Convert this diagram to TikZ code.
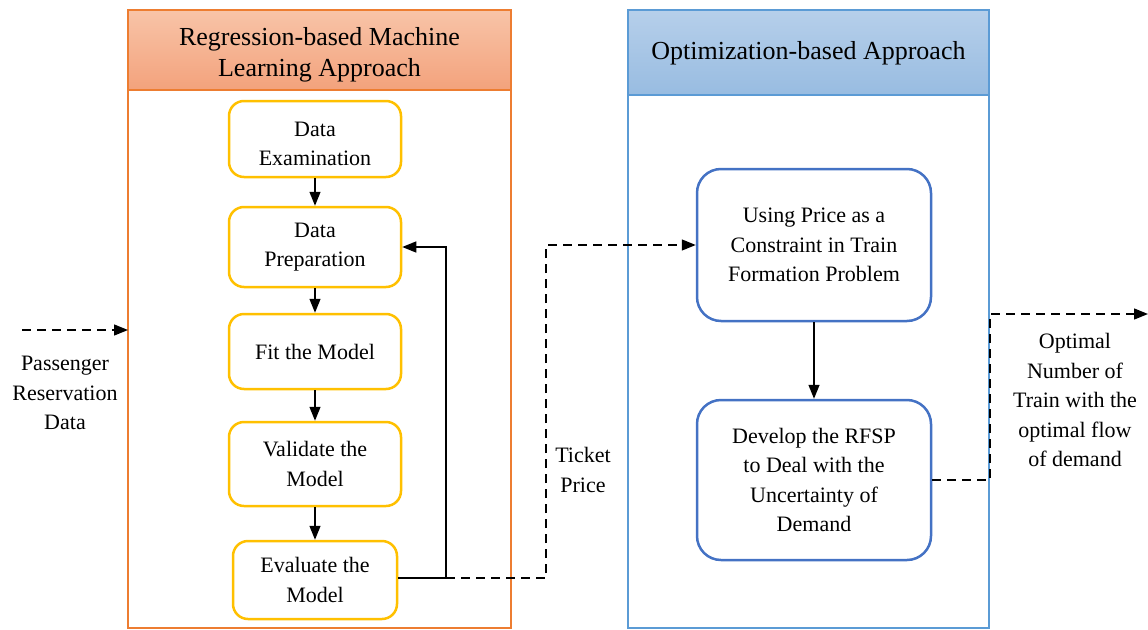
\documentclass[tikz,border=0pt]{standalone}
\usepackage{fontspec}
\setmainfont{Liberation Serif}
\usetikzlibrary{arrows.meta,calc}
\definecolor{panelorange}{HTML}{ED7D31}
\definecolor{hdrOtop}{HTML}{F8C4A8}
\definecolor{hdrObot}{HTML}{F3A27C}
\definecolor{panelblue}{HTML}{5B9BD5}
\definecolor{hdrBtop}{HTML}{B6CFEA}
\definecolor{hdrBbot}{HTML}{98BCE1}
\definecolor{boxblue}{HTML}{4472C4}
\definecolor{boxyellow}{HTML}{FFC000}
\tikzset{
  bodytext/.style={font=\fontsize{22}{29.5}\selectfont, align=center},
  hdrtext/.style={font=\fontsize{26}{31}\selectfont, align=center},
  ybox/.style={draw=boxyellow, line width=2.5pt, rounded corners=15pt, bodytext, inner sep=0pt},
  bbox/.style={draw=boxblue, line width=2.5pt, rounded corners=24pt, bodytext, inner sep=0pt},
  arr/.style={line width=1.4pt, -{Triangle[length=14pt,width=11pt]}},
  dsh/.style={dash pattern=on 9pt off 6pt},
}
\begin{document}
\begin{tikzpicture}[x=1pt,y=-1pt]
\useasboundingbox (0,0) rectangle (1148,629);
% left panel
\shade[top color=hdrOtop, bottom color=hdrObot] (128,10) rectangle (511,90);
\draw[panelorange, line width=2pt] (128,10) rectangle (511,628);
\draw[panelorange, line width=2pt] (128,90) -- (511,90);
\node[hdrtext] (hl) at (319.5,55) {Regression-based Machine\\Learning Approach};
% right panel
\shade[top color=hdrBtop, bottom color=hdrBbot] (628,10) rectangle (989,95);
\draw[panelblue, line width=2pt] (628,10) rectangle (989,628);
\draw[panelblue, line width=2pt] (628,95) -- (989,95);
\node[hdrtext] (hr) at (808.5,53) {Optimization-based Approach};
% yellow boxes
\node[ybox, minimum width=172pt, minimum height=76pt] (e1) at (315,139) {};
\node[bodytext] (e1t) at (315,144) {Data\\Examination};
\node[ybox, minimum width=172pt, minimum height=80pt] (e2) at (315,247) {Data\\Preparation};
\node[ybox, minimum width=172pt, minimum height=75pt] (e3) at (315,351.5) {Fit the Model};
\node[ybox, minimum width=172pt, minimum height=84pt] (e4) at (315,464) {Validate the\\Model};
\node[ybox, minimum width=164pt, minimum height=78pt] (e5) at (315,580) {Evaluate the\\Model};
% blue boxes
\node[bbox, minimum width=234pt, minimum height=152pt] (o1) at (814,245) {Using Price as a\\Constraint in Train\\Formation Problem};
\node[bbox, minimum width=234pt, minimum height=160pt] (o2) at (814,480) {Develop the RFSP\\to Deal with the\\Uncertainty of\\Demand};
% labels
\node[bodytext] (lin) at (65,393) {Passenger\\Reservation\\Data};
\node[bodytext] (ltp) at (583,470) {Ticket\\Price};
\node[bodytext] (lout) at (1075,400) {Optimal\\Number of\\Train with the\\optimal flow\\of demand};
% coordinates
\coordinate (inS) at (22,330);
\coordinate (inE) at (128,330);
\coordinate (fb) at (446,578);
\coordinate (tp) at (546,578);
\coordinate (oc) at (990,480);
\coordinate (outE) at (1148,314);
% connectors
\draw[arr] (e1.south) -- (e2.north);
\draw[arr] (e2.south) -- (e3.north);
\draw[arr] (e3.south) -- (e4.north);
\draw[arr] (e4.south) -- (e5.north);
\draw[arr] (e5.east |- fb) -- (fb) |- (e2.east);
\draw[arr, dsh] (fb) -- (tp) |- (o1.west);
\draw[arr] (o1.south) -- (o2.north);
\draw[arr, dsh] (o2.east) -- (oc) |- (outE);
\draw[arr, dsh] (inS) -- (inE);
\end{tikzpicture}
\end{document}
